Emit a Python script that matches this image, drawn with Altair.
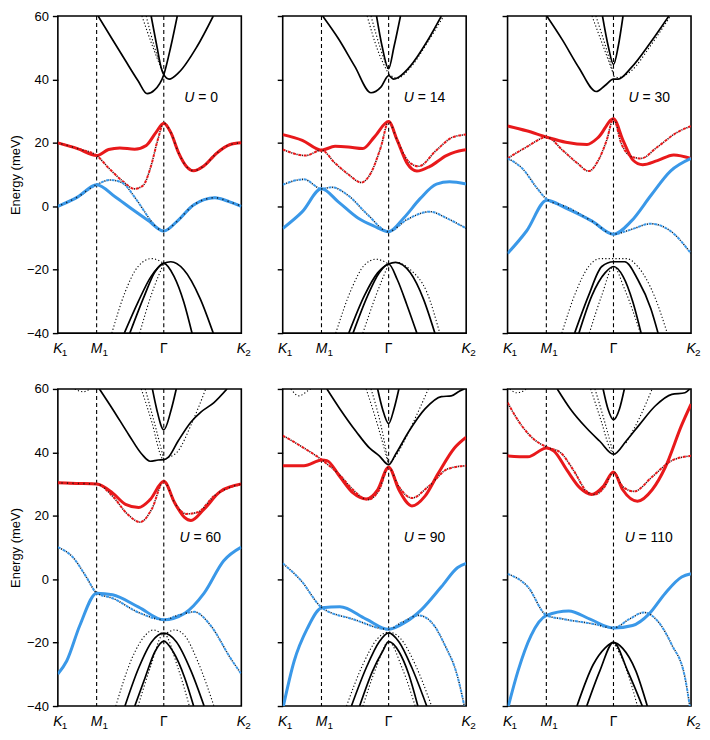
import altair as alt
import pandas as pd

# ---------------- axis / label values ----------------
X_M1, X_G, X_K2 = 0.5, 1.366, 2.366
Y_TICKS = [-40, -20, 0, 20, 40, 60]
TICK_POS = [0.0, 0.5, 1.366, 2.366]
TICK_MAIN = ["K", "M", "Γ", "K"]
TICK_SUB = ["1", "1", "", "2"]

U_VALUES = ["0", "14", "30", "60", "90", "110"]
U_LABEL_X = [1.63, 1.56, 1.56, 1.57, 1.56, 1.51]
U_LABEL_E = [34, 34, 34, 13, 13, 13]

# ---------------- U = 0 ----------------
U0_RED = [(0, 20.0), (0.253, 18.2), (0.5, 16.0), (0.654, 17.9), (0.80, 18.4), (0.99, 18.0), (1.14, 19.2),
          (1.266, 23.3), (1.366, 26.2), (1.456, 23.3), (1.56, 16.7), (1.667, 12.3), (1.75, 11.2),
          (1.878, 12.6), (2.046, 16.7), (2.215, 19.4), (2.366, 20.0)]
U0_RED_DD = [(0, 20.0), (0.253, 18.2), (0.5, 16.0), (0.654, 12.1), (0.823, 8.2), (0.99, 5.5), (1.097, 6.5),
             (1.2, 12.6), (1.287, 20.8), (1.366, 26.2), (1.456, 23.3), (1.56, 16.7), (1.667, 12.3),
             (1.75, 11.2), (1.878, 12.6), (2.046, 16.7), (2.215, 19.4), (2.366, 20.0)]
U0_BLUE = [(0, 0.0), (0.253, 2.9), (0.5, 6.8), (0.738, 3.0), (0.95, -0.8), (1.16, -4.4), (1.366, -7.8),
           (1.54, -4.7), (1.75, 0.4), (2.025, 2.7), (2.215, 1.4), (2.366, 0.0)]
U0_BLUE_DD = [(0, 0.0), (0.253, 2.9), (0.5, 6.8), (0.675, 8.3), (0.823, 7.5), (0.99, 2.9), (1.118, -1.7),
              (1.2, -4.6), (1.366, -7.8), (1.54, -4.7), (1.75, 0.4), (2.025, 2.7), (2.215, 1.4), (2.366, 0.0)]
U0_BLACK = [
    [(0.519, 60), (0.696, 52.9), (0.865, 46.2), (1.034, 39.6), (1.152, 35.5), (1.245, 36.6), (1.366, 41.5),
     (1.456, 50.3), (1.54, 60)],
    [(1.203, 60), (1.278, 50.3), (1.338, 43.2), (1.366, 41.5), (1.435, 40.1), (1.561, 42.2), (1.793, 50.3),
     (2.004, 60)],
    [(0.857, -40), (1.034, -30.2), (1.203, -22.1), (1.366, -18.0), (1.456, -17.5), (1.624, -20.0),
     (1.835, -29.1), (2.004, -40)],
    [(0.928, -40), (1.118, -28.1), (1.245, -21.0), (1.366, -18.0), (1.498, -22.1), (1.624, -30.2), (1.73, -40)],
]
U0_DOTTED = [
    [(1.084, 60), (1.224, 50.3), (1.366, 41.5)],
    [(1.139, 60), (1.245, 50.3), (1.366, 41.5)],
    [(0.696, -40), (0.865, -27.2), (1.034, -19.0), (1.21, -16.5), (1.366, -18.0)],
    [(1.055, -40), (1.203, -28.1), (1.366, -18.0)],
]

# ---------------- U = 14 ----------------
U14_RED = [(0, 22.6), (0.253, 20.8), (0.5, 17.7), (0.675, 18.9), (0.844, 18.7), (1.034, 18.2), (1.181, 21.8),
           (1.366, 26.7), (1.477, 20.8), (1.603, 13.6), (1.73, 11.1), (1.899, 12.6), (2.11, 16.0),
           (2.32, 17.7), (2.366, 17.8)]
U14_RED_DD = [(0, 17.9), (0.295, 16.0), (0.5, 17.7), (0.675, 13.6), (0.844, 10.1), (1.013, 7.5), (1.139, 10.6),
              (1.266, 18.7), (1.366, 26.7), (1.477, 20.8), (1.624, 14.1), (1.751, 12.6), (1.983, 17.7),
              (2.194, 21.8), (2.366, 22.6)]
U14_BLUE = [(0, -7.0), (0.253, -1.7), (0.5, 5.5), (0.717, 1.4), (0.97, -3.7), (1.181, -6.3), (1.366, -8.0),
            (1.561, -3.7), (1.772, 2.4), (1.983, 7.0), (2.152, 7.7), (2.366, 7.0)]
U14_BLUE_DD = [(0, 6.8), (0.274, 8.5), (0.5, 5.5), (0.633, 6.0), (0.844, 3.4), (1.097, -2.7), (1.366, -8.0),
               (1.603, -4.2), (1.899, -1.7), (2.11, -3.7), (2.366, -7.0)]
U14_BLACK = [
    [(0.515, 60), (0.717, 52.9), (0.928, 44.2), (1.139, 35.8), (1.266, 37.6), (1.366, 41.2), (1.43, 40.1),
     (1.5, 40.8), (1.646, 44.2), (1.857, 51.8), (2.046, 60)],
    [(1.21, 60), (1.283, 50.3), (1.366, 43.4), (1.435, 50.3), (1.519, 60)],
    [(0.852, -40), (1.055, -28.1), (1.224, -21.0), (1.366, -18.2), (1.456, -17.7), (1.646, -21.0),
     (1.814, -29.2), (1.962, -40)],
    [(0.907, -40), (1.097, -28.1), (1.245, -21.0), (1.366, -18.2), (1.477, -23.1), (1.603, -31.2), (1.73, -40)],
]
U14_DOTTED = [
    [(1.089, 60), (1.224, 49.3), (1.366, 41.7)],
    [(1.139, 60), (1.266, 49.3), (1.366, 42.5)],
    [(1.366, 41.7), (1.477, 40.4), (1.646, 43.7), (1.857, 51.3), (2.076, 60)],
    [(0.684, -40), (0.886, -26.1), (1.055, -18.5), (1.203, -16.7), (1.366, -18.2)],
    [(1.034, -40), (1.203, -28.1), (1.366, -18.2)],
    [(1.498, -17.7), (1.646, -20.0), (1.857, -27.0), (2.025, -40)],
]

# ---------------- U = 30 ----------------
U30_RED = [(0, 25.3), (0.245, 23.8), (0.506, 21.8), (0.751, 20.2), (1.025, 19.5), (1.173, 21.8), (1.366, 27.6),
           (1.489, 20.8), (1.616, 14.6), (1.743, 13.1), (1.932, 14.4), (2.143, 16.2), (2.366, 15.1)]
U30_RED_DD = [(0, 15.1), (0.245, 18.7), (0.506, 21.8), (0.709, 17.7), (0.899, 13.6), (1.046, 11.1),
              (1.173, 14.6), (1.278, 20.8), (1.366, 27.6), (1.468, 19.7), (1.595, 15.7), (1.722, 15.1),
              (1.932, 18.7), (2.186, 23.3), (2.366, 25.3)]
U30_BLUE = [(0, -14.9), (0.245, -7.8), (0.506, 1.9), (0.751, -0.6), (1.089, -4.7), (1.366, -8.8),
            (1.595, -4.7), (1.848, 3.4), (2.101, 11.1), (2.366, 15.1)]
U30_BLUE_DD = [(0, 15.1), (0.203, 11.6), (0.371, 6.0), (0.506, 2.2), (0.751, -0.1), (1.089, -4.7),
               (1.366, -8.8), (1.595, -7.3), (1.848, -5.5), (2.101, -7.8), (2.366, -14.9)]
U30_BLACK = [
    [(0.506, 60), (0.709, 52.4), (0.92, 43.7), (1.143, 36.2), (1.257, 38.1), (1.366, 40.1), (1.426, 40.1),
     (1.595, 43.7), (1.848, 51.8), (2.08, 60)],
    [(1.224, 60), (1.3, 50.3), (1.366, 44.7), (1.426, 50.3), (1.489, 60)],
    [(0.865, -40), (1.046, -28.1), (1.215, -19.0), (1.366, -17.5), (1.51, -17.5), (1.679, -23.1),
     (1.848, -32.3), (1.941, -40)],
    [(0.92, -40), (1.089, -28.1), (1.257, -21.0), (1.366, -19.0), (1.489, -22.1), (1.616, -30.2), (1.722, -40)],
]
U30_DOTTED = [
    [(1.089, 60), (1.236, 50.3), (1.366, 41.7)],
    [(1.139, 60), (1.278, 49.3), (1.366, 41.7)],
    [(1.366, 41.1), (1.426, 40.6), (1.595, 42.7), (1.848, 50.8), (2.1, 60)],
    [(0.7, -40), (0.878, -27.2), (1.046, -19.0), (1.194, -16.5), (1.366, -16.5), (1.532, -16.5),
     (1.679, -19.0), (1.89, -28.1), (2.059, -40)],
    [(1.055, -40), (1.215, -28.1), (1.366, -19.0), (1.51, -26.2), (1.713, -40)],
]

# ---------------- U = 60 ----------------
U60_RED = [(0, 30.4), (0.24, 30.2), (0.502, 30.0), (0.705, 27.2), (0.873, 23.6), (1.042, 22.6), (1.19, 25.1),
           (1.366, 30.9), (1.506, 24.1), (1.633, 19.5), (1.717, 18.5), (1.886, 22.1), (2.097, 27.7),
           (2.366, 30.0)]
U60_RED_DD = [(0, 30.4), (0.24, 30.2), (0.502, 30.0), (0.705, 26.2), (0.895, 20.6), (1.063, 18.0),
              (1.211, 22.1), (1.366, 30.9), (1.506, 24.1), (1.654, 20.6), (1.802, 21.1), (2.013, 26.2),
              (2.224, 29.0), (2.366, 30.0)]
U60_BLUE = [(0, -29.9), (0.114, -25.8), (0.283, -14.6), (0.502, -4.4), (0.705, -4.9), (1.042, -8.8),
            (1.366, -12.8), (1.633, -10.8), (1.886, -4.4), (2.139, 5.8), (2.366, 10.1)]
U60_BLUE_DD = [(0, 10.1), (0.198, 6.8), (0.367, 0.7), (0.502, -4.4), (0.705, -6.0), (1.042, -10.5),
               (1.366, -12.8), (1.549, -11.4), (1.76, -10.3), (1.97, -14.6), (2.224, -24.8), (2.366, -29.9)]
U60_BLACK = [
    [(0.536, 60), (0.705, 53.7), (0.916, 45.5), (1.084, 39.4), (1.19, 37.2), (1.295, 37.6), (1.366, 37.7),
     (1.422, 38.4), (1.549, 43.5), (1.717, 49.6), (1.844, 52.7), (2.013, 55.7), (2.181, 60)],
    [(1.219, 60), (1.274, 53.7), (1.366, 47.1), (1.464, 53.7), (1.527, 60)],
    [(0.865, -40), (1.042, -28.0), (1.211, -19.7), (1.366, -17.0), (1.527, -19.7), (1.717, -28.9),
     (1.886, -40)],
    [(0.992, -40), (1.127, -30.9), (1.253, -22.8), (1.366, -19.5), (1.485, -22.8), (1.633, -30.9),
     (1.751, -40)],
]
U60_DOTTED = [
    [(0.219, 60), (0.325, 59.1), (0.418, 60)],
    [(1.076, 60), (1.211, 49.6), (1.338, 38.4), (1.366, 37.4)],
    [(1.127, 60), (1.253, 48.6), (1.366, 37.9)],
    [(1.422, 38.4), (1.549, 40.4), (1.717, 48.6), (1.907, 60)],
    [(0.747, -40), (0.958, -24.8), (1.127, -17.7), (1.232, -16.0), (1.366, -17.2), (1.506, -16.0),
     (1.633, -17.7), (1.802, -25.8), (2.013, -40)],
    [(1.034, -40), (1.19, -28.0), (1.366, -17.2), (1.549, -28.0), (1.696, -40)],
]

# ---------------- U = 90 ----------------
U90_RED = [(0, 35.8), (0.274, 35.8), (0.506, 37.6), (0.57, 37.4), (0.738, 32.3), (0.907, 27.2), (1.076, 25.3),
           (1.224, 28.2), (1.366, 35.3), (1.498, 28.2), (1.667, 23.1), (1.835, 26.2), (2.004, 33.3),
           (2.215, 41.4), (2.366, 44.8)]
U90_RED_DD = [(0, 45.3), (0.232, 42.0), (0.506, 37.6), (0.738, 32.8), (0.907, 28.2), (1.097, 25.1),
              (1.245, 28.2), (1.366, 35.3), (1.498, 29.2), (1.667, 25.6), (1.878, 29.2), (2.131, 34.8),
              (2.366, 35.8)]
U90_BLUE = [(0, -41.0), (0.148, -25.8), (0.316, -15.6), (0.506, -9.0), (0.738, -8.7), (1.076, -12.6),
            (1.366, -15.8), (1.582, -13.6), (1.793, -9.5), (2.046, -2.4), (2.257, 3.7), (2.366, 5.0)]
U90_BLUE_DD = [(0, 5.0), (0.232, -0.3), (0.506, -9.0), (0.907, -12.6), (1.366, -15.8), (1.54, -13.6),
               (1.751, -11.4), (1.92, -13.6), (2.089, -20.7), (2.257, -30.9), (2.342, -40)]
U90_BLACK = [
    [(0.57, 60), (0.738, 53.7), (0.949, 46.5), (1.118, 41.4), (1.245, 38.9), (1.366, 36.1), (1.456, 39.4),
     (1.624, 46.5), (1.835, 53.7), (2.046, 57.6), (2.173, 57.8), (2.278, 59.3), (2.342, 60)],
    [(1.224, 60), (1.287, 53.7), (1.366, 49.1), (1.435, 53.7), (1.498, 60)],
    [(0.886, -40), (1.076, -28.0), (1.245, -19.7), (1.366, -16.9), (1.498, -19.7), (1.667, -28.0),
     (1.857, -40)],
    [(0.992, -40), (1.16, -28.9), (1.287, -22.8), (1.366, -19.7), (1.498, -22.8), (1.624, -29.9),
     (1.743, -40)],
]
U90_DOTTED = [
    [(0.105, 60), (0.211, 57.8), (0.316, 59.3), (0.359, 60)],
    [(1.076, 60), (1.224, 48.6), (1.366, 36.1)],
    [(1.139, 60), (1.266, 48.6), (1.366, 36.1)],
    [(1.366, 36.1), (1.498, 40.4), (1.667, 48.6), (1.878, 60)],
    [(0.823, -40), (1.034, -26.9), (1.224, -18.7), (1.366, -16.7), (1.519, -18.7), (1.709, -26.9),
     (1.92, -40)],
    [(1.034, -40), (1.203, -28.0), (1.366, -19.7), (1.54, -28.0), (1.709, -40)],
]

# ---------------- U = 110 ----------------
U110_RED = [(0, 38.9), (0.262, 38.6), (0.502, 41.4), (0.599, 40.4), (0.768, 34.3), (0.937, 28.7),
            (1.084, 26.7), (1.232, 29.2), (1.366, 33.8), (1.485, 28.2), (1.675, 24.6), (1.865, 28.2),
            (2.034, 35.3), (2.245, 48.6), (2.366, 55.2)]
U110_RED_DD = [(0, 55.7), (0.177, 48.6), (0.346, 44.0), (0.502, 41.7), (0.684, 39.9), (0.852, 34.3),
               (1.021, 27.7), (1.127, 26.7), (1.253, 29.2), (1.366, 33.8), (1.485, 29.2), (1.633, 27.7),
               (1.865, 32.3), (2.118, 37.4), (2.366, 38.9)]
U110_BLUE = [(0, -41.0), (0.135, -28.9), (0.304, -17.7), (0.502, -11.4), (0.789, -10.0), (1.063, -12.6),
             (1.366, -15.4), (1.612, -14.6), (1.823, -11.0), (2.034, -4.4), (2.245, 0.7), (2.366, 1.7)]
U110_BLUE_DD = [(0, 1.7), (0.262, -2.4), (0.502, -11.4), (0.726, -12.6), (1.105, -14.1), (1.366, -15.4),
                (1.57, -12.6), (1.759, -10.5), (1.949, -13.6), (2.118, -20.7), (2.287, -30.9), (2.35, -40)]
U110_BLACK = [
    [(0.641, 60), (0.81, 53.7), (1.021, 47.6), (1.19, 43.5), (1.366, 39.4), (1.527, 43.5), (1.696, 48.6),
     (1.907, 54.7), (2.118, 58.3), (2.287, 58.8), (2.35, 60)],
    [(1.232, 60), (1.295, 53.7), (1.366, 50.3), (1.443, 53.7), (1.506, 60)],
    [(0.895, -40), (1.105, -26.9), (1.253, -21.8), (1.366, -19.9), (1.485, -21.8), (1.654, -28.9),
     (1.802, -40)],
    [(1.021, -40), (1.19, -28.9), (1.366, -19.9), (1.548, -28.9), (1.738, -40)],
]
U110_DOTTED = [
    [(0.03, 60), (0.114, 58.8), (0.198, 59.3), (0.24, 60)],
    [(1.072, 60), (1.211, 49.6), (1.316, 41.4), (1.366, 39.4)],
    [(1.127, 60), (1.253, 49.6), (1.366, 39.4)],
    [(1.527, 43.0), (1.696, 50.6), (1.865, 60)],
    [(1.366, -19.9), (1.527, -28.0), (1.675, -40)],
]

PANELS = [
    (U0_RED, U0_RED_DD, U0_BLUE, U0_BLUE_DD, U0_BLACK, U0_DOTTED),
    (U14_RED, U14_RED_DD, U14_BLUE, U14_BLUE_DD, U14_BLACK, U14_DOTTED),
    (U30_RED, U30_RED_DD, U30_BLUE, U30_BLUE_DD, U30_BLACK, U30_DOTTED),
    (U60_RED, U60_RED_DD, U60_BLUE, U60_BLUE_DD, U60_BLACK, U60_DOTTED),
    (U90_RED, U90_RED_DD, U90_BLUE, U90_BLUE_DD, U90_BLACK, U90_DOTTED),
    (U110_RED, U110_RED_DD, U110_BLUE, U110_BLUE_DD, U110_BLACK, U110_DOTTED),
]

# ---------------- styling ----------------
RED = "#e8191b"
BLUE = "#3a98e8"
W, H = 184, 318
FONT = "Liberation Sans"

xs = alt.Scale(domain=[0, X_K2], nice=False, zero=False)
ys = alt.Scale(domain=[-40, 60], nice=False, zero=False)


def to_df(curves):
    rows = []
    for ci, c in enumerate(curves):
        for j, (x, y) in enumerate(c):
            rows.append({"c": ci, "o": j, "x": x, "y": y})
    return pd.DataFrame(rows)


def make_yaxis(left):
    common = dict(values=Y_TICKS, tickSize=5.5, tickWidth=1.4, tickColor="black", domain=False, grid=False,
                  labelFont=FONT, labelFontSize=13, labelColor="black", labelPadding=4)
    if left:
        return alt.Axis(title="Energy (meV)", titleFont=FONT, titleFontSize=13, titleFontWeight="normal",
                        titleColor="black", titlePadding=4, **common)
    return alt.Axis(labels=False, title=None, **common)


def panel(i):
    red, red_dd, blue, blue_dd, black, dotted = PANELS[i]
    ya = make_yaxis(i % 3 == 0)
    X = alt.X("x:Q", scale=xs, axis=None)
    Y = alt.Y("y:Q", scale=ys, axis=ya)

    def lines(curves, **mk):
        return alt.Chart(to_df(curves)).mark_line(interpolate="monotone", clip=True, **mk).encode(
            x=X, y=Y, detail="c:N", order="o:Q")

    rules = alt.Chart(pd.DataFrame({"x": [X_M1, X_G]})).mark_rule(
        color="black", strokeWidth=1.1, strokeDash=[4, 3]).encode(x=X)

    layers = [
        rules,
        lines(dotted, color="black", strokeWidth=1.1, strokeDash=[1.2, 2.2]),
        lines(black, color="black", strokeWidth=1.7),
        lines([red], color=RED, strokeWidth=3),
        lines([blue], color=BLUE, strokeWidth=3),
        lines([red_dd], color=RED, strokeWidth=2, strokeDash=[3, 2.5]),
        lines([red_dd], color="#3a1010", strokeWidth=1.6, strokeDash=[1.2, 4.3], strokeDashOffset=-3.6),
        lines([blue_dd], color=BLUE, strokeWidth=2, strokeDash=[3, 2.5]),
        lines([blue_dd], color="#10253a", strokeWidth=1.6, strokeDash=[1.2, 4.3], strokeDashOffset=-3.6),
    ]

    lab = pd.DataFrame({"x": [U_LABEL_X[i]], "y": [U_LABEL_E[i]], "v": ["= " + U_VALUES[i]]})
    layers.append(alt.Chart(lab).mark_text(text="U", font=FONT, fontSize=14, fontStyle="italic",
                                           align="left", baseline="middle", color="black").encode(x=X, y=Y))
    layers.append(alt.Chart(lab).mark_text(font=FONT, fontSize=14, align="left", baseline="middle",
                                           dx=14, color="black").encode(x=X, y=Y, text="v:N"))

    ticks = pd.DataFrame({"x": TICK_POS, "main": TICK_MAIN, "sub": TICK_SUB})
    base_t = alt.Chart(ticks)
    layers.append(base_t.transform_filter("datum.main != 'Γ'").mark_text(
        font=FONT, fontSize=14, fontStyle="italic", align="center", baseline="alphabetic", color="black"
    ).encode(x=X, y=alt.value(H + 20), text="main:N"))
    layers.append(base_t.transform_filter("datum.main == 'Γ'").mark_text(
        font=FONT, fontSize=14, align="center", baseline="alphabetic", color="black"
    ).encode(x=X, y=alt.value(H + 20), text="main:N"))
    layers.append(base_t.transform_filter("datum.main == 'K'").mark_text(
        font=FONT, fontSize=10, align="left", baseline="alphabetic", dx=4, color="black"
    ).encode(x=X, y=alt.value(H + 23), text="sub:N"))
    layers.append(base_t.transform_filter("datum.main == 'M'").mark_text(
        font=FONT, fontSize=10, align="left", baseline="alphabetic", dx=6, color="black"
    ).encode(x=X, y=alt.value(H + 23), text="sub:N"))

    return alt.layer(*layers).properties(width=W, height=H)


chart = alt.concat(
    *[panel(i) for i in range(6)], columns=3, spacing={"row": 56, "column": 41.5}, bounds="flush"
).properties(
    padding={"left": 0, "top": 0, "right": 0, "bottom": 0}, background="white"
).configure_view(stroke="black", strokeWidth=1.6)

chart.save("out.html", embed_options={"renderer": "svg", "actions": False})
